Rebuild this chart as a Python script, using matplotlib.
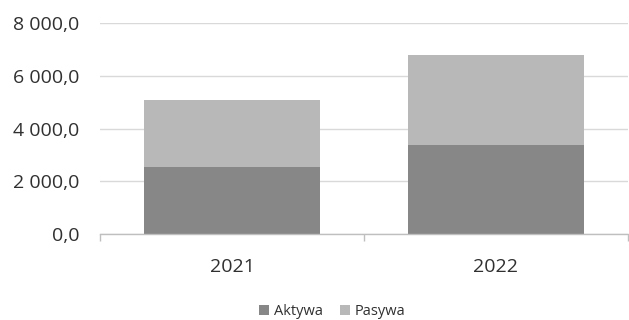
import numpy as np
import matplotlib.pyplot as plt
from matplotlib.ticker import FuncFormatter

# =====================================
# Data
# =====================================

years = ["2021", "2022"]
aktywa = [2540.0, 3390.0]
pasywa = [2540.0, 3390.0]

DARK = "#878787"
LIGHT = "#b8b8b8"
TEXT = "#303030"

plt.rcParams['font.family'] = ['Open Sans', 'DejaVu Sans']

# =====================================
# Plot
# =====================================

fig = plt.figure(figsize=(6.29, 3.2), dpi=100)
ax = fig.add_axes([100 / 629, (320 - 234) / 320, 528 / 629, (234 - 23) / 320])

x = np.arange(len(years))

ax.bar(x, aktywa, width=0.67, color=DARK, label="Aktywa", zorder=2)
ax.bar(x, pasywa, width=0.67, bottom=aktywa, color=LIGHT,
       label="Pasywa", zorder=2)

ax.set_xlim(-0.5, len(years) - 0.5)
ax.set_ylim(0, 8000)
ax.set_yticks([0, 2000, 4000, 6000, 8000])


def fmt(v, pos):
    s = f"{v:,.1f}".replace(",", " ").replace(".", ",")
    return s


ax.yaxis.set_major_formatter(FuncFormatter(fmt))
ax.grid(axis='y', color="#d9d9d9", linewidth=1, zorder=0)

for side in ['top', 'right', 'left']:
    ax.spines[side].set_visible(False)
ax.spines['bottom'].set_color("#bfbfbf")
ax.spines['bottom'].set_linewidth(1)

ax.tick_params(axis='y', length=0, labelsize=14, labelcolor=TEXT, pad=15)
ax.set_xticks(x)
ax.set_xticklabels(years)
ax.tick_params(axis='x', length=0, labelsize=14, labelcolor=TEXT, pad=17)

# boundary ticks between categories
ax.set_xticks(np.arange(-0.5, len(years)), minor=True)
ax.tick_params(axis='x', which='minor', length=5, color="#bfbfbf", width=1)

leg = ax.legend(loc='upper center', bbox_to_anchor=(0.44, -0.285), ncol=2,
                frameon=False, fontsize=10.5, handlelength=0.7,
                handleheight=0.7, handletextpad=0.3, columnspacing=1.2,
                labelcolor=TEXT, borderpad=0.2)

fig.savefig("out.png", dpi=100)
